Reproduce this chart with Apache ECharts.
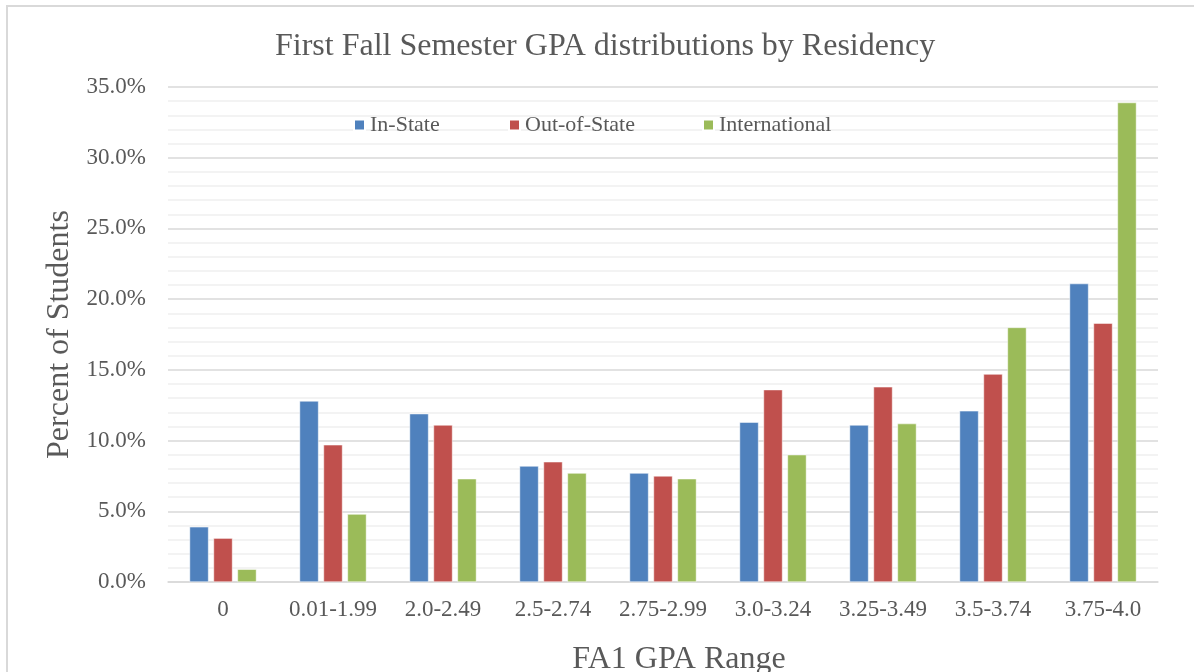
<!DOCTYPE html>
<html>
<head>
<meta charset="utf-8">
<script src="https://cdn.jsdelivr.net/npm/echarts@6/dist/echarts.min.js"></script>
<style>
html, body { margin: 0; padding: 0; background: #fff; }
#frame { position: absolute; left: 6px; top: 5px; width: 1300px; height: 800px; border: 2px solid #d9d9d9; }
#chart { position: absolute; left: 0; top: 0; width: 1194px; height: 672px; }
</style>
</head>
<body>
<div id="frame"></div>
<div id="chart"></div>
<script>
var categories = ['0', '0.01-1.99', '2.0-2.49', '2.5-2.74', '2.75-2.99', '3.0-3.24', '3.25-3.49', '3.5-3.74', '3.75-4.0'];
var inState = [3.9, 12.8, 11.9, 8.2, 7.7, 11.3, 11.1, 12.1, 21.1];
var outOfState = [3.1, 9.7, 11.1, 8.5, 7.5, 13.6, 13.8, 14.7, 18.3];
var international = [0.9, 4.8, 7.3, 7.7, 7.3, 9.0, 11.2, 18.0, 33.9];

var font = 'Liberation Serif';
var textColor = '#595959';

var myChart = echarts.init(document.getElementById('chart'));

function legendAt(left, name) {
    return {
        left: left,
        top: 114,
        padding: 0,
        itemWidth: 11,
        itemHeight: 11,
        icon: 'rect',
        data: [name],
        textStyle: { fontFamily: font, fontSize: 22, color: textColor }
    };
}

var option = {
    animation: false,
    title: {
        text: 'First Fall Semester GPA distributions by Residency',
        left: 270,
        top: 26,
        textStyle: { fontFamily: font, fontSize: 32, fontWeight: 'normal', color: textColor }
    },
    legend: [
        legendAt(353, 'In-State'),
        legendAt(508, 'Out-of-State'),
        legendAt(702, 'International')
    ],
    grid: { left: 168, right: 36, top: 87, bottom: 90, containLabel: false, outerBoundsMode: 'none' },
    xAxis: {
        type: 'category',
        data: categories,
        name: 'FA1 GPA Range',
        nameLocation: 'middle',
        nameGap: 62,
        nameTextStyle: { fontFamily: font, fontSize: 32, color: textColor, padding: [0, 0, 0, 32] },
        axisLine: { lineStyle: { color: '#d9d9d9', width: 1.5 } },
        axisTick: { show: false },
        axisLabel: { interval: 0, fontFamily: font, fontSize: 23, color: textColor, margin: 16 }
    },
    yAxis: {
        type: 'value',
        min: 0,
        max: 35,
        interval: 5,
        name: 'Percent of Students',
        nameLocation: 'middle',
        nameGap: 91,
        nameTextStyle: { fontFamily: font, fontSize: 32, color: textColor },
        axisLine: { show: false },
        axisTick: { show: false },
        axisLabel: {
            fontFamily: font, fontSize: 23, color: textColor, margin: 22,
            formatter: function (v) { return v.toFixed(1) + '%'; }
        },
        splitLine: { lineStyle: { color: '#d9d9d9', width: 1.5 } },
        minorTick: { show: false, splitNumber: 5 },
        minorSplitLine: { show: true, lineStyle: { color: '#f0f0f0', width: 1.5 } }
    },
    series: [
        {
            name: 'In-State', type: 'bar', data: inState,
            barWidth: 19, barGap: '26%',
            itemStyle: { color: '#4F81BD', borderColor: '#ffffff', borderWidth: 0.5 }
        },
        {
            name: 'Out-of-State', type: 'bar', data: outOfState,
            barWidth: 19, barGap: '26%',
            itemStyle: { color: '#C0504D', borderColor: '#ffffff', borderWidth: 0.5 }
        },
        {
            name: 'International', type: 'bar', data: international,
            barWidth: 19, barGap: '26%',
            itemStyle: { color: '#9BBB59', borderColor: '#ffffff', borderWidth: 0.5 }
        }
    ]
};

myChart.setOption(option);
</script>
</body>
</html>
